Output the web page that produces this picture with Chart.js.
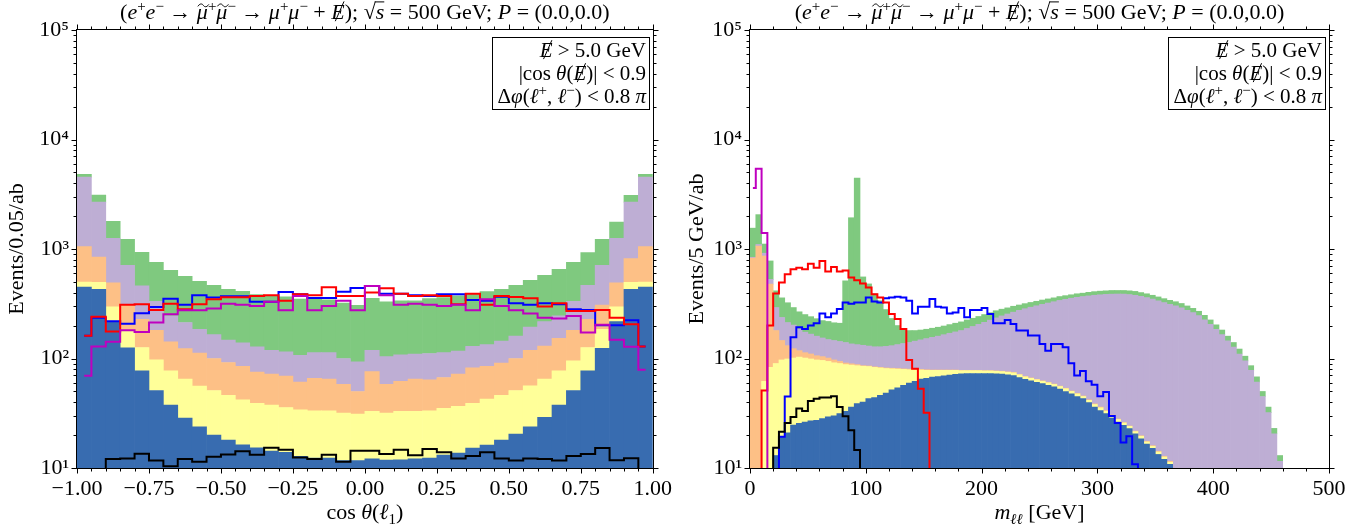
<!DOCTYPE html>
<html>
<head>
<meta charset="utf-8">
<script src="https://cdn.jsdelivr.net/npm/chart.js"></script>
<style>
  html, body { margin: 0; padding: 0; background: #fff; }
  #wrap { position: relative; width: 1369px; height: 529px; }
  canvas { position: absolute; top: 0; }
</style>
</head>
<body>
<div id="wrap">
  <canvas id="cosChart" width="680" height="529" style="left:0"></canvas>
  <canvas id="mllChart" width="689" height="529" style="left:680px"></canvas>
</div>
<script>
// ---- left panel: cos theta(l1), 40 bins of 0.05 ----
// stacked layers are given as the top of each layer (blue, yellow, orange, purple, green)
const cosBlue = [450, 429, 217, 125, 77, 51, 37.5, 28.6, 23.8, 20, 18, 16.3, 15.3, 14.3, 13.9, 12.8, 12.3, 12.3, 11.7, 11.7,
  12.1, 11.8, 11.9, 12.1, 12.3, 13.1, 13.7, 15.2, 16.2, 18, 20.4, 23.8, 29, 37.5, 51, 77, 124, 217, 429, 450];
const cosYellow = [500, 497, 296, 181, 126, 97, 77, 65, 56, 51, 46, 42, 39, 37.5, 35.7, 34, 33.3, 33.3, 31.8, 31,
  32.9, 31.8, 32.9, 32.9, 33.3, 35, 36.5, 39, 42.6, 46, 51, 56.3, 65, 77, 95, 126, 185, 296, 497, 500];
const cosOrange = [1050, 845, 490, 308, 228, 181, 142, 123, 112, 100, 92, 85, 75, 72, 69, 61, 66, 65, 58, 50,
  76, 58, 62, 65, 64, 67, 72, 82, 85, 91, 100, 119, 130, 153, 181, 228, 308, 490, 816, 1050];
const cosPurple = [4536, 2683, 1251, 710, 460, 333, 245, 213, 185, 165, 147, 139, 128, 119, 115, 107, 113, 113, 100, 93,
  119, 104, 108, 110, 111, 113, 117, 129, 134, 144, 160, 194, 217, 245, 333, 466, 710, 1251, 2683, 4536];
const cosGreen = [4800, 3100, 1790, 1225, 933, 755, 639, 563, 507, 466, 429, 411, 383, 378, 365, 348, 348, 343, 320, 306,
  355, 329, 336, 336, 352, 360, 373, 386, 408, 429, 466, 518, 575, 653, 755, 926, 1225, 1763, 3086, 4797];
// signal lines (0 = empty bin)
const cosRed = [161, 240, 176, 309, 313, 278, 317, 282, 313, 348, 362, 362, 373, 378, 336, 386, 378, 447, 373, 373,
  400, 438, 391, 373, 378, 373, 313, 391, 309, 373, 365, 355, 298, 320, 272, 272, 278, 236, 206, 129];
const cosBlueLine = [161, 235, 219, 208, 259, 296, 352, 309, 378, 360, 370, 370, 329, 329, 405, 386, 357, 357, 408, 441,
  460, 391, 391, 378, 373, 386, 386, 343, 336, 367, 320, 309, 320, 313, 282, 278, 201, 201, 224, 129];
const cosMagenta = [69.5, 129, 142, 181, 175, 213, 254, 276, 276, 286, 317, 309, 302, 329, 276, 373, 276, 302, 336, 276,
  460, 378, 309, 317, 309, 302, 309, 276, 348, 302, 276, 257, 236, 232, 245, 173, 203, 148, 128, 79];
const cosBlack = [0, 0, 12.1, 12.2, 13.5, 11.7, 10.4, 12.1, 11.4, 12.7, 13.3, 14.2, 13.2, 15.3, 14.7, 12.5, 12.1, 13.2, 11.4, 14.4,
  14.4, 13.4, 14.7, 13.1, 14.9, 13.9, 12.2, 12.9, 13.9, 12.2, 11.7, 12.2, 12.1, 11.7, 12.9, 13.4, 15.2, 11.8, 12.3, 0];

// ---- right panel: m_ll, bins of 5 GeV ----
const mllBlue = [0, 0, 0, 0, 13, 19.3, 21, 24.6, 25.6, 26.3, 27, 27.3, 28.3, 29.3, 30, 31.4, 33, 36, 38.7, 40,
  43, 44, 46, 48.3, 51.8, 54, 56.8, 59.6, 62, 65, 66, 67.6, 68.5, 69.6, 70.5, 71.5, 72.6, 73, 73, 73,
  73, 73, 72.5, 72, 71, 70, 67, 64.5, 62.5, 60.5, 59, 57, 55, 52.5, 50, 47.5, 45, 43, 39.5, 36,
  33.5, 31.4, 28.5, 26.3, 24.5, 22.9, 20.5, 18.5, 16.5, 15.1, 13.3, 12, 10.8, 9];
const mllYellow = [0, 0, 62, 83, 90, 97, 99, 101, 103, 101, 99, 97, 96, 94, 91.4, 90, 88, 87, 86, 85,
  84.5, 83, 82, 81, 80.5, 80, 79.5, 79, 78.5, 78.5, 78, 78, 78, 78, 78, 78, 77.5, 77.5, 77.5, 77.5,
  77, 77, 76.5, 76, 75, 74, 71, 68, 66, 64, 62, 60, 58, 55.5, 53, 50, 47.5, 45, 41.5, 38,
  35.5, 33, 30, 27.7, 25.8, 24, 21.5, 19.5, 17.3, 15.8, 14, 12.6, 11.3, 9.5];
const mllOrange = [828, 1065, 863, 478, 180, 146, 131, 123, 118, 113, 110, 106, 104, 101, 97, 94, 91, 89.5, 88, 86,
  85.5, 84, 83, 82, 81.5, 81, 80.5, 80, 79.5, 79.5, 79, 78.5, 78.5, 78.5, 78.5, 78.5, 78, 78, 78, 78,
  77.5, 77.5, 77, 76.5, 75.5, 74.5, 71.5, 68.5, 66.5, 64.5, 62.5, 60.5, 58.5, 56, 53.5, 50.5, 48, 45.5, 42, 38.5,
  36, 33.5, 30.5, 28, 26, 24.2, 21.7, 19.7, 17.5, 16, 14.2, 12.8, 11.5, 9.7];
const mllPurple = [840, 1100, 915, 528, 292, 237, 213, 202, 186, 174, 167, 160, 154, 149, 146, 143, 140, 136, 134, 132,
  130, 128, 128, 129, 131, 134, 137, 140, 144, 148, 152, 156, 160, 165, 170, 175, 180, 188, 196, 205,
  214, 224, 235, 245, 255, 265, 275, 285, 294, 303, 312, 321, 330, 339, 347, 355, 362, 368, 373, 378,
  382, 385, 387, 388, 387, 384, 378, 370, 360, 348, 336, 324, 312, 302, 290, 276, 262, 246, 226, 205,
  185, 165, 145, 127, 110, 95, 78, 61, 45, 32, 20.5, 11.5];
const mllGreen = [1550, 2060, 1110, 778, 415, 358, 323, 292, 267, 252, 241, 231, 222, 218, 212, 210, 512, 1930, 4450, 556,
  480, 390, 337, 280, 232, 200, 185, 180, 180, 182, 185, 189, 193, 198, 204, 210, 216, 225, 233, 242,
  252, 262, 273, 282, 290, 300, 308, 317, 325, 333, 342, 350, 358, 368, 375, 382, 390, 395, 402, 408,
  412, 415, 418, 418, 418, 415, 410, 400, 390, 378, 365, 352, 340, 330, 318, 302, 287, 270, 248, 225,
  203, 182, 160, 140, 122, 105, 86, 68, 50, 36, 23, 13];
const mllRed = [0, 0, 51, 200, 393, 494, 589, 654, 674, 654, 735, 674, 776, 622, 685, 622, 636, 548, 519, 484,
  445, 387, 360, 325, 255, 229, 186, 97, 80.6, 53, 32, 0];
const mllBlueLine = [0, 0, 0, 0, 0, 19.3, 45, 156, 193, 186, 200, 210, 258, 238, 258, 283, 325, 316, 325, 325,
  360, 332, 325, 355, 360, 366, 360, 337, 258, 297, 297, 349, 297, 293, 258, 263, 289, 238, 278, 278,
  289, 255, 210, 210, 225, 207, 180, 180, 162, 162, 136, 118, 136, 136, 127, 90.6, 70, 77, 62, 57.6,
  45.2, 49.4, 29.8, 25.8, 17.1, 19.5, 10.8, 0];
const mllMagenta = [3600, 5400, 1400, 0];
const mllBlack = [0, 0, 0, 0, 15.3, 21.4, 25.8, 29.2, 34.9, 33.2, 40.9, 43, 44, 44, 45.2, 36.1, 29.7, 22.1, 14.6, 0];

const cosCenters = Array.from({length: 40}, (_, i) => -0.975 + 0.05 * i);
const mllCenters = Array.from({length: 100}, (_, i) => 2.5 + 5 * i);
const yTickValues = [10, 100, 1000, 10000, 100000];
const supDigits = ['⁰', '¹', '²', '³', '⁴', '⁵'];

const SERIF = "'Liberation Serif', 'DejaVu Serif', serif";
const FS = 22;
const fillColors = ['#386cb0', '#ffff99', '#fdc086', '#beaed4', '#7fc97f'];

function barSets(centers, layers) {
  return layers.map((tops, k) => {
    const data = [];
    centers.forEach((c, i) => {
      let low = 1;
      for (let j = 0; j < k; j++) low = Math.max(low, layers[j][i] || 0);
      const top = tops[i] || 0;
      if (top > low) data.push({x: c, y: [low, top]});
    });
    return {
      type: 'bar', data, backgroundColor: fillColors[k], borderWidth: 0,
      grouped: false, barPercentage: 1, categoryPercentage: 1, order: 10
    };
  });
}

function stepSet(centers, vals, color) {
  return {
    type: 'line',
    data: vals.map((v, i) => ({x: centers[i], y: v > 0 ? v : 0.1})),
    borderColor: color, borderWidth: 2, pointRadius: 0,
    stepped: 'middle', fill: false, order: 0
  };
}

// text with italic / super / subscript pieces
function drawRich(ctx, parts, x, y, size, align) {
  const segs = parts.map(p => {
    const s = typeof p === 'string' ? {t: p} : p;
    const fs = (s.sup || s.sub) ? Math.round(size * 0.7) : size;
    const font = (s.i ? 'italic ' : '') + fs + 'px ' + SERIF;
    ctx.font = font;
    return {s, font, w: ctx.measureText(s.t).width, dy: s.sup ? -size * 0.36 : s.sub ? size * 0.22 : 0};
  });
  const total = segs.reduce((a, g) => a + g.w, 0);
  let cx = align === 'right' ? x - total : align === 'center' ? x - total / 2 : x;
  ctx.textAlign = 'left';
  ctx.textBaseline = 'alphabetic';
  ctx.fillStyle = '#000';
  ctx.strokeStyle = '#000';
  ctx.lineWidth = 1;
  segs.forEach(g => {
    ctx.font = g.font;
    ctx.fillText(g.s.t, cx, y + g.dy);
    if (g.s.over) ctx.fillRect(cx - 1, y - size * 0.8, g.w + 1, 1);
    if (g.s.slash) {
      ctx.beginPath();
      ctx.moveTo(cx + g.w * 0.3, y + size * 0.1);
      ctx.lineTo(cx + g.w * 0.95, y - size * 0.8);
      ctx.stroke();
    }
    if (g.s.tilde) {
      ctx.beginPath();
      const ty = y - size * 0.62, x0 = cx + 1, x1 = cx + g.w + 1, w = x1 - x0;
      ctx.moveTo(x0, ty + 1);
      ctx.bezierCurveTo(x0 + w * 0.25, ty - 3, x0 + w * 0.45, ty - 1, x0 + w * 0.5, ty);
      ctx.bezierCurveTo(x0 + w * 0.55, ty + 1, x0 + w * 0.75, ty + 3, x1, ty - 1);
      ctx.stroke();
    }
    cx += g.w;
  });
}

const titleParts = ['(', {t: 'e', i: 1}, {t: '+', sup: 1}, {t: 'e', i: 1}, {t: '−', sup: 1}, ' → ',
  {t: 'μ', i: 1, tilde: 1}, {t: '+', sup: 1}, {t: 'μ', i: 1, tilde: 1}, {t: '−', sup: 1}, ' → ',
  {t: 'μ', i: 1}, {t: '+', sup: 1}, {t: 'μ', i: 1}, {t: '−', sup: 1}, ' + ', {t: 'E', i: 1, slash: 1},
  '); √', {t: 's', i: 1, over: 1}, ' = 500 GeV; ', {t: 'P', i: 1}, ' = (0.0,0.0)'];

const cutLines = [
  [{t: 'E', i: 1, slash: 1}, ' > 5.0 GeV'],
  ['|cos ', {t: 'θ', i: 1}, '(', {t: 'E', i: 1, slash: 1}, ')| < 0.9'],
  ['Δ', {t: 'φ', i: 1}, '(', {t: 'ℓ', i: 1}, {t: '+', sup: 1}, ', ', {t: 'ℓ', i: 1}, {t: '−', sup: 1}, ') < 0.8 ', {t: 'π', i: 1}]
];

// per-canvas extras used by the frame plugin (kept out of chart options)
const extras = {
  cosChart: {xMin: -1, xMax: 1, xMinor: 0.05, xEvery: 5,
    xTitle: ['cos ', {t: 'θ', i: 1}, '(', {t: 'ℓ', i: 1}, {t: '1', sub: 1}, ')']},
  mllChart: {xMin: 0, xMax: 500, xMinor: 20, xEvery: 5,
    xTitle: [{t: 'm', i: 1}, {t: 'ℓℓ', i: 1, sub: 1}, ' [GeV]']}
};

const framePlugin = {
  id: 'frame',
  afterDraw(chart) {
    const o = extras[chart.canvas.id];
    const {ctx, chartArea: a} = chart;
    const xs = chart.scales.x, ys = chart.scales.y;
    ctx.save();
    ctx.strokeStyle = '#000';
    ctx.lineWidth = 1;
    const L = Math.round(a.left) - 0.5, R = Math.round(a.right) + 0.5;
    const T = Math.round(a.top) - 0.5, B = Math.round(a.bottom) + 0.5;
    ctx.strokeRect(L, T, R - L, B - T);
    ctx.beginPath();
    const n = Math.round((o.xMax - o.xMin) / o.xMinor);
    for (let i = 0; i <= n; i++) {
      const px = Math.round(xs.getPixelForValue(o.xMin + i * o.xMinor)) + 0.5;
      const len = i % o.xEvery === 0 ? 5 : 3;
      ctx.moveTo(px, B); ctx.lineTo(px, B + len);
      ctx.moveTo(px, T); ctx.lineTo(px, T - len);
    }
    for (let d = 1; d <= 5; d++) {
      for (let m = 1; m <= 9; m++) {
        const v = m * Math.pow(10, d);
        if (v > 1e5) break;
        const py = Math.round(ys.getPixelForValue(v)) + 0.5;
        const len = m === 1 ? 5 : 3;
        ctx.moveTo(L, py); ctx.lineTo(L - len, py);
        ctx.moveTo(R, py); ctx.lineTo(R + len, py);
      }
    }
    ctx.stroke();

    // title
    drawRich(ctx, titleParts, (a.left + a.right) / 2, 19, FS, 'center');

    // cut box
    const bw = 157, bh = 72;
    const bx = Math.round(a.right) - 4 - bw, by = Math.round(a.top) + 7;
    ctx.fillStyle = '#fff';
    ctx.fillRect(bx, by, bw, bh);
    ctx.strokeRect(bx + 0.5, by + 0.5, bw, bh);
    cutLines.forEach((line, k) => drawRich(ctx, line, bx + bw - 3, by + 20 + k * 23, 21, 'right'));

    // x axis title
    drawRich(ctx, o.xTitle, (a.left + a.right) / 2, 519, FS, 'center');
    ctx.restore();
  }
};

function makeChart(id, o) {
  return new Chart(document.getElementById(id), {
    type: 'bar',
    data: {datasets: [...barSets(o.centers, o.layers), ...o.lines]},
    options: {
      responsive: false,
      animation: false,
      devicePixelRatio: 1,
      layout: {padding: {top: 30, right: o.padRight, left: 0, bottom: 0}},
      plugins: {legend: {display: false}, tooltip: {enabled: false}},
      scales: {
        x: {
          type: 'linear', min: o.xMin, max: o.xMax, offset: false,
          grid: {display: false, drawTicks: false}, border: {display: false},
          ticks: {stepSize: o.xStep, autoSkip: false, maxRotation: 0, padding: 8, color: '#000',
            font: {family: SERIF, size: FS}, callback: o.xLabel},
          afterFit: s => { s.height = 61; }
        },
        y: {
          type: 'logarithmic', min: 10, max: 100000,
          grid: {display: false, drawTicks: false}, border: {display: false},
          afterBuildTicks: s => { s.ticks = yTickValues.map(v => ({value: v})); },
          ticks: {padding: 8, color: '#000', font: {family: SERIF, size: FS},
            callback: v => '10' + supDigits[Math.round(Math.log10(v))]},
          title: {display: true, text: o.yTitle, color: '#000', font: {family: SERIF, size: FS},
            padding: {top: 4, bottom: 0}},
          afterFit: s => { s.width = o.yWidth; }
        }
      }
    },
    plugins: [framePlugin]
  });
}

makeChart('cosChart', {
  centers: cosCenters,
  layers: [cosBlue, cosYellow, cosOrange, cosPurple, cosGreen],
  lines: [
    stepSet(cosCenters, cosBlack, '#000000'),
    stepSet(cosCenters, cosMagenta, '#bf00bf'),
    stepSet(cosCenters, cosRed, '#ff0000'),
    stepSet(cosCenters, cosBlueLine, '#0000ff')
  ],
  xMin: -1, xMax: 1, xStep: 0.25,
  xLabel: v => (v < 0 ? '−' : '') + Math.abs(v).toFixed(2),
  yTitle: 'Events/0.05/ab',
  yWidth: 77, padRight: 24
});

makeChart('mllChart', {
  centers: mllCenters,
  layers: [mllBlue, mllYellow, mllOrange, mllPurple, mllGreen],
  lines: [
    stepSet(mllCenters, mllBlack, '#000000'),
    stepSet(mllCenters, mllMagenta, '#bf00bf'),
    stepSet(mllCenters, mllRed, '#ff0000'),
    stepSet(mllCenters, mllBlueLine, '#0000ff')
  ],
  xMin: 0, xMax: 500, xStep: 100,
  xLabel: v => String(v),
  yTitle: 'Events/5 GeV/ab',
  yWidth: 70, padRight: 40
});
</script>
</body>
</html>
